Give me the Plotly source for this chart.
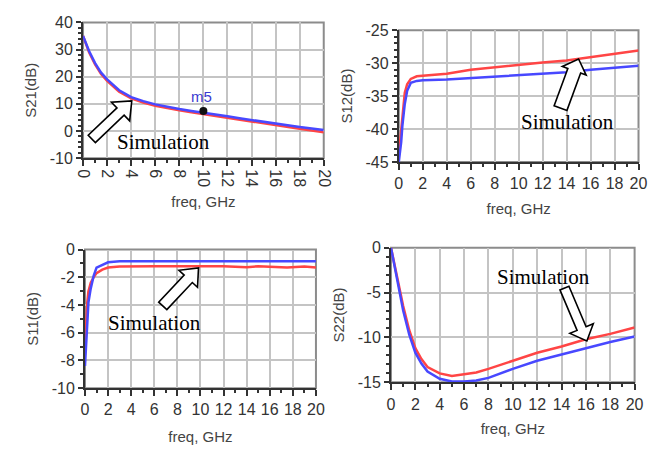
import plotly.graph_objects as go

W, H = 667, 452

# ---------------- data ----------------
freq_s21 = [0, 0.5, 1, 1.5, 2, 3, 4, 5, 6, 7, 8, 9, 10, 11, 12, 13, 14, 15, 16, 17, 18, 19, 20]
s21_blue = [35, 29.5, 25, 21.5, 19, 15, 12.5, 11, 9.8, 8.9, 8.1, 7.4, 6.8, 6.1, 5.4, 4.7, 4.0, 3.4, 2.7, 2.1, 1.5, 1.0, 0.4]
s21_red = [35, 29, 24.5, 21, 18.5, 14.5, 12, 10.5, 9.3, 8.4, 7.6, 6.9, 6.2, 5.5, 4.8, 4.1, 3.4, 2.7, 2.0, 1.4, 0.8, 0.2, -0.5]
m5_freq = [10]
m5_val = [7.4]

freq_s12 = [0, 0.1, 0.2, 0.3, 0.5, 0.7, 1, 1.5, 2, 4, 6, 8, 10, 12, 14, 16, 18, 20]
s12_red = [-44, -42, -39.6, -37.5, -34.5, -33.2, -32.4, -32.0, -31.9, -31.6, -31.0, -30.6, -30.3, -29.9, -29.6, -29.1, -28.7, -28.1]
s12_blue = [-45, -43.5, -42, -39.5, -36.2, -34.2, -33.0, -32.7, -32.6, -32.5, -32.3, -32.0, -31.8, -31.6, -31.4, -31.0, -30.7, -30.4]

freq_s11 = [0, 0.1, 0.2, 0.3, 0.5, 0.75, 1, 1.5, 2, 3, 4, 6, 8, 10, 12, 14, 15, 17.5, 18, 19, 20]
s11_blue = [-8.4, -7.0, -4.9, -3.8, -2.8, -1.9, -1.3, -1.1, -0.92, -0.85, -0.85, -0.85, -0.85, -0.85, -0.85, -0.85, -0.85, -0.85, -0.85, -0.85, -0.85]
s11_red = [-7.0, -5.2, -3.8, -3.0, -2.4, -2.0, -1.7, -1.45, -1.3, -1.22, -1.2, -1.2, -1.2, -1.2, -1.2, -1.28, -1.2, -1.3, -1.28, -1.22, -1.3]

freq_s22 = [0, 0.5, 1, 1.5, 2, 2.5, 3, 4, 5, 6, 7, 8, 10, 12, 14, 16, 18, 20]
s22_red = [0, -3.3, -6.5, -9.2, -11.2, -12.4, -13.3, -14.0, -14.3, -14.1, -13.9, -13.5, -12.6, -11.7, -11.0, -10.2, -9.6, -8.9]
s22_blue = [0, -3.6, -7.0, -9.7, -11.7, -12.9, -13.8, -14.6, -14.9, -14.9, -14.8, -14.5, -13.5, -12.6, -11.9, -11.2, -10.5, -9.9]

x_ticks = [0, 2, 4, 6, 8, 10, 12, 14, 16, 18, 20]
x_ticktext = ["0", "2", "4", "6", "8", "10", "12", "14", "16", "18", "20"]
s21_yticks = [-10, 0, 10, 20, 30, 40]
s21_yticktext = ["-10", "0", "10", "20", "30", "40"]
s12_yticks = [-45, -40, -35, -30, -25]
s12_yticktext = ["-45", "-40", "-35", "-30", "-25"]
s11_yticks = [-10, -8, -6, -4, -2, 0]
s11_yticktext = ["-10", "-8", "-6", "-4", "-2", "0"]
s22_yticks = [-15, -10, -5, 0]
s22_yticktext = ["-15", "-10", "-5", "0"]

annot_text = "Simulation"

# ---------------- style ----------------
RED = "#ff4545"
BLUE = "#4848ff"
GRID = "#c4c4c4"
AX = "#333333"
BORDER = "#8c8c8c"
SANS = "Liberation Sans, Arial, sans-serif"
SERIF = "Liberation Serif, Times New Roman, serif"

fig = go.Figure()

panels = [
    ("", freq_s21, s21_red, s21_blue),
    ("2", freq_s12, s12_red, s12_blue),
    ("3", freq_s11, s11_red, s11_blue),
    ("4", freq_s22, s22_red, s22_blue),
]
for suf, fx, red, blue in panels:
    fig.add_trace(go.Scatter(x=fx, y=red, mode="lines", line=dict(color=RED, width=2.5),
                             xaxis="x" + suf, yaxis="y" + suf, showlegend=False, hoverinfo="skip"))
    fig.add_trace(go.Scatter(x=fx, y=blue, mode="lines", line=dict(color=BLUE, width=2.5),
                             xaxis="x" + suf, yaxis="y" + suf, showlegend=False, hoverinfo="skip"))

fig.add_trace(go.Scatter(x=m5_freq, y=m5_val, mode="markers", marker=dict(color="#111", size=8),
                         xaxis="x", yaxis="y", showlegend=False, hoverinfo="skip"))


def xdom(a, b):
    return [a / W, b / W]


def ydom(top, bottom):
    return [1 - bottom / H, 1 - top / H]


def xaxis(dom, anchor, tickangle=0, standoff=10):
    return dict(domain=dom, anchor=anchor, range=[0, 20], tickmode="array",
                tickvals=x_ticks, ticktext=x_ticktext, tickangle=tickangle,
                showgrid=True, gridcolor=GRID, gridwidth=2, zeroline=False,
                showline=True, linecolor=AX, linewidth=2,
                ticks="outside", ticklen=6, tickwidth=2, tickcolor=AX,
                minor=dict(tickmode="linear", tick0=0, dtick=1, ticks="outside", ticklen=3,
                           tickwidth=2, tickcolor=AX, showgrid=False),
                tickfont=dict(family=SANS, size=16, color="#333"),
                title=dict(text="freq, GHz", font=dict(family=SANS, size=15, color="#444"),
                           standoff=standoff))


def yaxis(dom, anchor, rng, vals, texts, minor_dtick, title):
    return dict(domain=dom, anchor=anchor, range=rng, tickmode="array",
                tickvals=vals, ticktext=texts,
                showgrid=True, gridcolor=GRID, gridwidth=2, zeroline=False,
                showline=True, linecolor=AX, linewidth=2,
                ticks="outside", ticklen=5, tickwidth=2, tickcolor=AX,
                minor=dict(tickmode="linear", tick0=rng[0], dtick=minor_dtick, ticks="outside",
                           ticklen=3, tickwidth=2, tickcolor=AX, showgrid=False),
                tickfont=dict(family=SANS, size=16, color="#333"),
                title=dict(text=title, font=dict(family=SANS, size=15, color="#444"), standoff=9))


layout = dict(
    width=W, height=H, margin=dict(l=0, r=0, t=0, b=0),
    paper_bgcolor="white", plot_bgcolor="white", showlegend=False,
    xaxis=xaxis(xdom(77, 324), "y", tickangle=90, standoff=10),
    yaxis=yaxis(ydom(15, 156), "x", [-10, 40], s21_yticks, s21_yticktext, 2, "S21(dB)"),
    xaxis2=xaxis(xdom(401, 647), "y2", standoff=12),
    yaxis2=yaxis(ydom(23, 160), "x2", [-45, -25], s12_yticks, s12_yticktext, 1, "S12(dB)"),
    xaxis3=xaxis(xdom(79, 316), "y3", standoff=14),
    yaxis3=yaxis(ydom(251, 395), "x3", [-10, 0], s11_yticks, s11_yticktext, 1, "S11(dB)"),
    xaxis4=xaxis(xdom(393, 643), "y4", standoff=12),
    yaxis4=yaxis(ydom(249, 389), "x4", [-15, 0], s22_yticks, s22_yticktext, 1, "S22(dB)"),
)
fig.update_layout(**layout)

# gray frame (top / right borders)
for suf in ["", "2", "3", "4"]:
    fig.add_shape(type="rect", xref=("x" + suf) + " domain", yref=("y" + suf) + " domain",
                  x0=0, x1=1, y0=0, y1=1, line=dict(color=BORDER, width=2), layer="below")


def block_arrow(tail, tip, w=5.5, h=13, L=15):
    tx, ty = tail
    px, py = tip
    dx, dy = px - tx, py - ty
    n = (dx ** 2 + dy ** 2) ** 0.5
    dx, dy = dx / n, dy / n
    nx, ny = -dy, dx
    bx, by = px - dx * L, py - dy * L
    pts = [(tx + nx * w, ty + ny * w), (bx + nx * w, by + ny * w), (bx + nx * h, by + ny * h),
           (px, py), (bx - nx * h, by - ny * h), (bx - nx * w, by - ny * w), (tx - nx * w, ty - ny * w)]
    path = "M " + " L ".join(f"{x / W:.5f},{1 - y / H:.5f}" for x, y in pts) + " Z"
    return path


arrows = [((86, 136), (127, 96.5), 5.3, 13.5, 16),
          ((567, 104), (585.5, 53), 7, 13, 13),
          ((158.8, 309.5), (195.5, 270), 5.7, 13, 15.5),
          ((571, 291), (594, 346), 5, 13, 14)]
for tail, tip, w, h, L in arrows:
    fig.add_shape(type="path", xref="paper", yref="paper", path=block_arrow(tail, tip, w, h, L),
                  fillcolor="white", line=dict(color="black", width=1.6), layer="above")

sim_pos = [(160, 139), (574, 118), (150, 327), (550, 279)]
for x, y in sim_pos:
    fig.add_annotation(x=x / W, y=1 - y / H, xref="paper", yref="paper", text=annot_text,
                       showarrow=False, xanchor="center", yanchor="middle",
                       font=dict(family=SERIF, size=21, color="black"))

fig.add_annotation(x=m5_freq[0], y=m5_val[0], xref="x", yref="y", text="m5", showarrow=False,
                   yshift=14, xshift=-2, font=dict(family=SANS, size=15, color="#3a3ad0"))

fig.write_html("out.html", config={"displayModeBar": False},
               post_script="document.body.style.margin='0';document.body.style.padding='0';")
